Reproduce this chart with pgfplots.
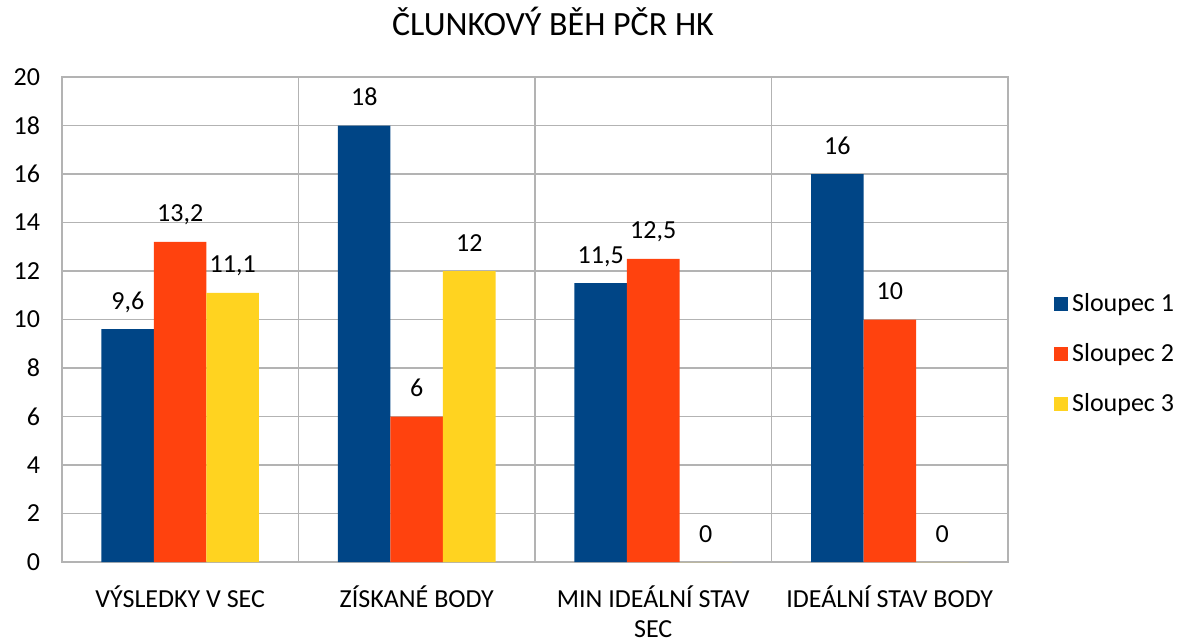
\documentclass[border=0pt]{standalone}
\usepackage{pgfplots}
\pgfplotsset{compat=1.18}
\usepackage{fontspec}
\setmainfont{Carlito}
\definecolor{sA}{HTML}{004586}
\definecolor{sB}{HTML}{FF420E}
\definecolor{sC}{HTML}{FFD320}
\definecolor{gridgray}{HTML}{B3B3B3}
\begin{document}
\begin{tikzpicture}
\begin{axis}[
    scale only axis,
    width=473pt, height=242.5pt,
    ybar=0pt, bar width=26.25pt,
    xmin=-0.5, xmax=3.5, ymin=0, ymax=20,
    xtick={0,1,2,3},
    xticklabels={VÝSLEDKY V SEC, ZÍSKANÉ BODY, {MIN IDEÁLNÍ STAV\\SEC}, IDEÁLNÍ STAV BODY},
    minor xtick={0.5,1.5,2.5},
    xminorgrids, ymajorgrids,
    ytick={0,2,...,20},
    grid style={draw=gridgray, line width=0.6pt},
    minor grid style={draw=gridgray, line width=0.6pt},
    axis line style={draw=gridgray, line width=0.6pt},
    major tick length=0pt, minor tick length=0pt,
    /pgf/number format/assume math mode=true,
    /pgf/number format/use comma,
    tick label style={font=\fontsize{13}{15}\selectfont, text=black},
    yticklabel style={xshift=-7.5pt},
    xticklabel style={align=center, inner sep=0pt, yshift=-11.8pt},
    nodes near coords,
    nodes near coords style={font=\fontsize{13}{15}\selectfont, anchor=base, yshift=10pt, text=black},
    title={ČLUNKOVÝ BĚH PČR HK},
    title style={at={(0.519,1)}, anchor=center, yshift=22pt, font=\fontsize{17}{20}\selectfont},
    legend style={at={(1.042,0.429)}, anchor=west, draw=none, font=\fontsize{13}{15}\selectfont,
        row sep=10.5pt, /tikz/every even column/.append style={column sep=3pt}},
    legend image code/.code={\fill[#1] (0pt,-3.5pt) rectangle (7pt,3.5pt);},
    legend cell align=left,
]
\addplot[fill=sA, draw=none] coordinates {(0,9.6) (1,18) (2,11.5) (3,16)};
\addplot[fill=sB, draw=none] coordinates {(0,13.2) (1,6) (2,12.5) (3,10)};
\addplot[fill=sC, draw=none] coordinates {(0,11.1) (1,12) (2,0) (3,0)};
\legend{Sloupec 1, Sloupec 2, Sloupec 3}
\end{axis}
\pgfresetboundingbox
\path[use as bounding box] (current axis.south west) ++(-31pt,-38.5pt) rectangle ++(590pt,319.5pt);
\end{tikzpicture}
\end{document}
